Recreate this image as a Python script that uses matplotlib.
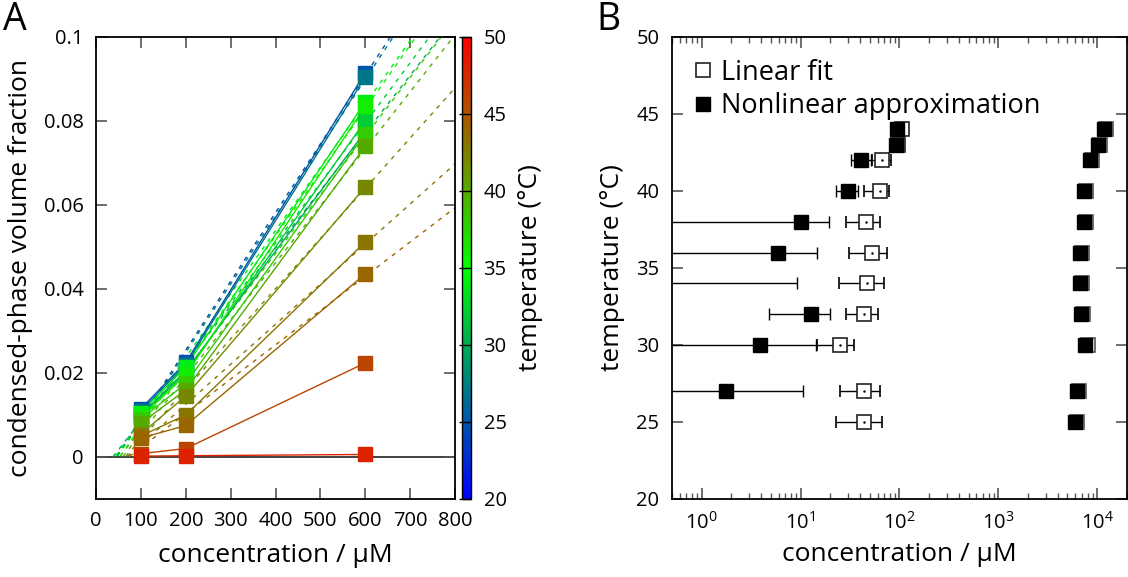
import numpy as np
import matplotlib
matplotlib.use("Agg")
import matplotlib.pyplot as plt
from matplotlib.colors import LinearSegmentedColormap, Normalize
from matplotlib.ticker import FuncFormatter

plt.rcParams['font.family'] = ['Open Sans', 'DejaVu Sans']
plt.rcParams['mathtext.fontset'] = 'custom'
plt.rcParams['mathtext.rm'] = 'Open Sans'

# panel A data: volume fraction at 100, 200, 600 uM per temperature
conc = [100, 200, 600]
temps_a = [25, 27, 30, 32, 34, 36, 38, 40, 42, 43, 44, 46, 48]
phi_a = [
    [0.0115, 0.0225, 0.0915],
    [0.0110, 0.0220, 0.0905],
    [0.0100, 0.0205, 0.0775],
    [0.0098, 0.0200, 0.0800],
    [0.0105, 0.0215, 0.0845],
    [0.0095, 0.0195, 0.0835],
    [0.0090, 0.0175, 0.0770],
    [0.0080, 0.0160, 0.0740],
    [0.0055, 0.0145, 0.0643],
    [0.0050, 0.0100, 0.0512],
    [0.0045, 0.0075, 0.0436],
    [0.0008, 0.0020, 0.0224],
    [0.0002, 0.0003, 0.0006],
]
phi_err = [0.0003, 0.0004, 0.0008]
fit_temps = [25, 27, 30, 32, 34, 36, 38, 40, 42, 43, 44]

# panel B data
temps_b = [25, 27, 30, 32, 34, 36, 38, 40, 42, 43, 44]
lin_x = [44, 44, 25, 44, 47, 53, 46, 63, 67, 96, 105]
lin_lo = [23, 25, 14.5, 29, 24.6, 31, 28.5, 44, 53, 96, 100]
lin_hi = [67, 64, 35, 61, 70, 74, 63, 79, 83, 96, 109]
nl_x = [np.nan, 1.75, 3.9, 12.6, 0.3, 5.9, 10, 30.5, 41, 93, 95]
nl_lo = [np.nan, 0.01, 0.01, 4.75, 0.01, 0.01, 0.01, 22.6, 32.7, 93, 95]
nl_hi = [np.nan, 10.7, 14.2, 20, 9.3, 14.5, 19.6, 37.7, 51, 93, 95]
far_x = [6000, 6300, 7600, 6800, 6700, 6700, 7400, 7400, 8500, 10200, 11700]

cmap = LinearSegmentedColormap.from_list('tc', [(0, 0, 1), (0, 1, 0), (1, 0, 0)])
norm = Normalize(20, 50)

TICK = 14.5
LAB = 19

fig = plt.figure(figsize=(11.28, 5.77), dpi=100)
axA = fig.add_axes([0.0851, 0.1352, 0.3183, 0.8007])
cax = fig.add_axes([0.4096, 0.1352, 0.0080, 0.8007])
axB = fig.add_axes([0.5957, 0.1352, 0.4034, 0.8007])

# ---- panel A
axA.axhline(0, color='#333333', lw=1.3, zorder=1)
xx = np.linspace(0, 800, 400)
for T, vals in zip(temps_a, phi_a):
    c = cmap(norm(T))
    if T in fit_temps:
        p = np.polyfit(conc, vals, 1)
        x0 = -p[1] / p[0]
        xs = xx[xx >= x0]
        axA.plot(xs, np.polyval(p, xs), ls=(0, (3, 4)), color=c, lw=1, zorder=2)
    axA.plot(conc, vals, '-', color=c, lw=1, zorder=3)
    axA.errorbar(conc, vals, yerr=phi_err, fmt='s', color=c, ms=10, capsize=4,
                 elinewidth=1, zorder=4)
axA.set_xlim(0, 800)
axA.set_ylim(-0.01, 0.1)
axA.set_xticks(np.arange(0, 801, 100))
axA.set_yticks([0, 0.02, 0.04, 0.06, 0.08, 0.1])
axA.yaxis.set_major_formatter(FuncFormatter(lambda v, p: '0' if abs(v) < 1e-9 else ('%g' % v)))
axA.tick_params(direction='in', top=True, right=True, length=8, width=1.2,
                labelsize=TICK, pad=9, color='#555555')
axA.set_xlabel('concentration / μM', fontsize=LAB, labelpad=8)
axA.set_ylabel('condensed-phase volume fraction', fontsize=LAB, labelpad=8)
for s in axA.spines.values():
    s.set_linewidth(1.3)

sm = matplotlib.cm.ScalarMappable(norm=norm, cmap=cmap)
cb = fig.colorbar(sm, cax=cax)
cb.set_ticks([20, 25, 30, 35, 40, 45, 50])
cb.ax.tick_params(direction='in', length=9, width=1, labelsize=TICK, pad=9)
cb.set_label('temperature (°C)', fontsize=LAB, labelpad=8)
cb.outline.set_linewidth(1)

# ---- panel B
lin_x = np.array(lin_x); lin_lo = np.array(lin_lo); lin_hi = np.array(lin_hi)
nl_x = np.array(nl_x); nl_lo = np.array(nl_lo); nl_hi = np.array(nl_hi)
far_x = np.array(far_x)
axB.errorbar(far_x * 1.05, temps_b, fmt='s', ms=10, mfc='white', mec='#555555', mew=1.2, zorder=2)
axB.errorbar(lin_x, temps_b, xerr=[lin_x - lin_lo, lin_hi - lin_x], fmt='s', ms=10,
             mfc='white', mec='#222222', mew=1.2, color='black', elinewidth=1,
             capsize=4, label='Linear fit', zorder=3)
axB.plot(lin_x, temps_b, '.', color='black', ms=1.5, zorder=4)
axB.errorbar(nl_x, temps_b, xerr=[nl_x - nl_lo, nl_hi - nl_x], fmt='s', ms=10,
             color='black', elinewidth=1, capsize=4, label='Nonlinear approximation', zorder=5)
axB.errorbar(far_x, temps_b, fmt='s', ms=10, color='black', zorder=6)
axB.set_xscale('log')
axB.set_xlim(0.5, 2e4)
axB.set_ylim(20, 50)
axB.set_yticks(np.arange(20, 51, 5))
axB.tick_params(which='major', direction='in', top=True, right=True, length=8, width=1.2,
                labelsize=TICK, pad=9, color='#555555')
axB.tick_params(which='minor', direction='in', top=True, right=False, length=4, width=1,
                color='#555555')
axB.tick_params(axis='y', which='minor', left=False, right=False)
axB.set_xlabel('concentration / μM', fontsize=LAB, labelpad=6)
axB.set_ylabel('temperature (°C)', fontsize=LAB, labelpad=8)
for s in axB.spines.values():
    s.set_linewidth(1.3)
h, l = axB.get_legend_handles_labels()
axB.legend([h[0][0], h[1][0]], l, loc='upper left', frameon=False, fontsize=19.5,
           handlelength=0.7, handletextpad=0.3, borderaxespad=0.5, labelspacing=0.2,
           borderpad=0.3)

fig.text(0.003, 0.998, 'A', fontsize=27, va='top', ha='left')
fig.text(0.529, 0.998, 'B', fontsize=27, va='top', ha='left')

fig.savefig('out.png', dpi=100)
